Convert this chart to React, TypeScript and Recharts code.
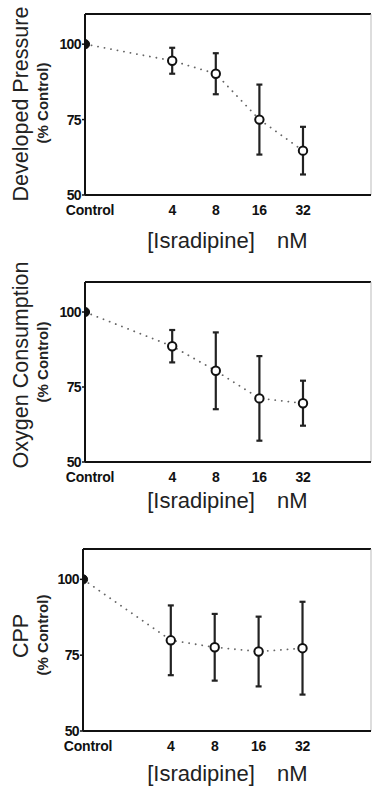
import React from "react";
import { LineChart, Line, XAxis, YAxis, ErrorBar, ReferenceLine } from "recharts";

// ---- data ----
const categories = ["Control", "4", "8", "16", "32"];
const doseNM: (number | null)[] = [null, 4, 8, 16, 32];

const pressureMean = [100, 94.5, 90.2, 75, 64.7];
const pressureErr = [0, 4.3, 6.8, 11.6, 7.9];

const oxygenMean = [100, 88.6, 80.4, 71.2, 69.6];
const oxygenErr = [0, 5.4, 12.8, 14.1, 7.5];

const cppMean = [100, 79.9, 77.6, 76.2, 77.3];
const cppErr = [0, 11.5, 11.0, 11.5, 15.3];

const yTicks = [50, 75, 100];
const xTitle = "[Isradipine]";
const xUnit = "nM";
const yUnit = "(% Control)";

// log2 dose position; control placed two doublings below the lowest dose
const xPos = (d: number | null) => (d == null ? 0 : Math.log2(d));
const xTicks = doseNM.map(xPos);
const X_MAX = 6.56;

const build = (mean: number[], err: number[]) =>
  categories.map((c, i) => ({ cat: c, x: xPos(doseNM[i]), mean: mean[i], err: err[i] }));

const FONT = "'Liberation Sans', Arial, Helvetica, sans-serif";

const renderDot = (props: any) => {
  const { cx, cy, index } = props;
  if (cx == null || cy == null) return <g key={`d-${index}`} />;
  if (index === 0) {
    return <circle key={`d-${index}`} cx={cx} cy={cy} r={4.6} fill="#111" stroke="#111" strokeWidth={1} />;
  }
  return <circle key={`d-${index}`} cx={cx} cy={cy} r={4.2} fill="#fff" stroke="#111" strokeWidth={2} />;
};

const XTick = (props: any) => {
  const { x, y, payload } = props;
  const idx = xTicks.indexOf(payload.value);
  const label = idx >= 0 ? categories[idx] : "";
  const dx = idx === 0 ? 5 : 0;
  return (
    <text x={x + dx} y={y} dy="0.71em" textAnchor="middle" fontFamily={FONT} fontWeight="bold" fontSize={14} fill="#111" letterSpacing={-0.2}>
      {label}
    </text>
  );
};

type PanelProps = {
  mean: number[];
  err: number[];
  title: string;
  height: number;
  top: number;
  plotBottom: number;
  left: number;
  titleY: number;
  unitY: number;
  xTitleBaseline: number;
};

const Panel = ({ mean, err, title, height, top, plotBottom, left, titleY, unitY, xTitleBaseline }: PanelProps) => {
  const data = build(mean, err);
  const xAxisH = 30;
  const bottom = height - plotBottom - xAxisH;
  const yAxisW = 60;
  return (
    <LineChart
      width={372}
      height={height}
      data={data}
      margin={{ top, right: 1, bottom, left: left - yAxisW }}
    >
      <XAxis
        dataKey="x"
        type="number"
        domain={[0, X_MAX]}
        ticks={xTicks}
        allowDataOverflow
        tickLine={false}
        tickSize={0}
        tickMargin={10}
        height={xAxisH}
        axisLine={{ stroke: "#111", strokeWidth: 2 }}
        tick={<XTick />}
        label={{
          content: () => (
            <g>
              <text x={201} y={xTitleBaseline} textAnchor="middle" fontFamily={FONT} fontSize={22} fill="#222">
                {xTitle}
              </text>
              <text x={277} y={xTitleBaseline} textAnchor="start" fontFamily={FONT} fontSize={22} fill="#222">
                {xUnit}
              </text>
            </g>
          ),
        }}
      />
      <YAxis
        type="number"
        domain={[50, 110]}
        ticks={yTicks}
        width={yAxisW}
        tickSize={3}
        tickMargin={1}
        axisLine={{ stroke: "#111", strokeWidth: 2 }}
        tickLine={{ stroke: "#111", strokeWidth: 1.5 }}
        tick={{ fontFamily: FONT, fontWeight: "bold", fontSize: 14, fill: "#111", letterSpacing: -0.6 }}
        label={{
          content: () => (
            <g>
              <text
                x={28}
                y={titleY}
                transform={`rotate(-90 28 ${titleY})`}
                textAnchor="middle"
                fontFamily={FONT}
                fontSize={21.5}
                fill="#222"
              >
                {title}
              </text>
              <text
                x={48}
                y={unitY}
                transform={`rotate(-90 48 ${unitY})`}
                textAnchor="middle"
                fontFamily={FONT}
                fontWeight="bold"
                fontSize={15}
                fill="#222"
              >
                {yUnit}
              </text>
            </g>
          ),
        }}
      />
      <ReferenceLine y={110} stroke="#111" strokeWidth={2} ifOverflow="visible" />
      <ReferenceLine x={X_MAX} stroke="#bbb" strokeWidth={1} ifOverflow="visible" />
      <Line
        type="linear"
        dataKey="mean"
        stroke="#666"
        strokeWidth={1.8}
        strokeDasharray="0.1 6.5"
        strokeLinecap="round"
        dot={renderDot}
        activeDot={false}
        isAnimationActive={false}
      >
        <ErrorBar dataKey="err" direction="y" width={3} stroke="#222" strokeWidth={2.2} isAnimationActive={false} />
      </Line>
    </LineChart>
  );
};

export default function App() {
  return (
    <div style={{ position: "absolute", left: 0, top: 0, width: 372, height: 788, background: "#fff" }}>
      <Panel
        mean={pressureMean}
        err={pressureErr}
        title="Developed Pressure"
        height={260}
        top={14}
        plotBottom={195}
        left={85}
        titleY={104}
        unitY={103}
        xTitleBaseline={248}
      />
      <Panel
        mean={oxygenMean}
        err={oxygenErr}
        title="Oxygen Consumption"
        height={260}
        top={22}
        plotBottom={202}
        left={85}
        titleY={105}
        unitY={102}
        xTitleBaseline={248}
      />
      <Panel
        mean={cppMean}
        err={cppErr}
        title="CPP"
        height={268}
        top={29}
        plotBottom={211}
        left={83}
        titleY={116}
        unitY={115}
        xTitleBaseline={261}
      />
    </div>
  );
}
